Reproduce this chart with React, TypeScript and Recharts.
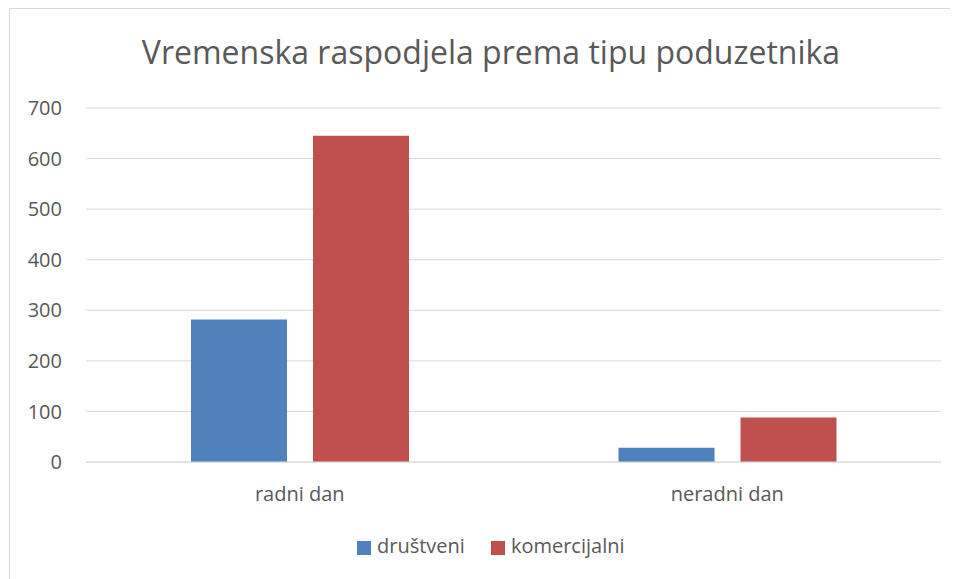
import { BarChart, Bar, XAxis, YAxis, CartesianGrid, Legend } from 'recharts';

const categories = ['radni dan', 'neradni dan'];
const drustveni = [282, 28];
const komercijalni = [645, 88];
const yTicks = [0, 100, 200, 300, 400, 500, 600, 700];

const SERIES = [
  { key: 'drustveni', name: 'društveni', color: '#4F81BD' },
  { key: 'komercijalni', name: 'komercijalni', color: '#C0504D' },
];

const FONT = '"Open Sans", sans-serif';
const TEXT = '#595959';

const data = categories.map((name, i) => ({
  name,
  drustveni: drustveni[i],
  komercijalni: komercijalni[i],
}));

const LegendContent = ({ payload }: any) => (
  <div style={{ display: 'flex', fontFamily: FONT, fontSize: 20, color: TEXT, lineHeight: '20px' }}>
    {(payload || []).map((item: any) => (
      <div key={item.value} style={{ display: 'flex', alignItems: 'flex-start', marginRight: 26 }}>
        <span
          style={{ width: 14, height: 14, background: item.color, marginTop: 5, marginRight: 6, display: 'inline-block' }}
        />
        <span>{item.value}</span>
      </div>
    ))}
  </div>
);

export default function App() {
  return (
    <div
      style={{
        position: 'relative',
        marginLeft: 1,
        width: 958,
        height: 600,
        border: '1px solid #d9d9d9',
        background: '#fff',
      }}
    >
      <div
        style={{
          position: 'absolute',
          top: 23,
          left: 0,
          width: 962,
          textAlign: 'center',
          fontFamily: FONT,
          fontSize: 32,
          lineHeight: '40px',
          color: TEXT,
        }}
      >
        Vremenska raspodjela prema tipu poduzetnika
      </div>
      <BarChart
        width={958}
        height={600}
        data={data}
        margin={{ top: 99, right: 27, left: 0, bottom: 117 }}
        barSize={96}
        barGap={26}
      >
        <CartesianGrid vertical={false} stroke="#d9d9d9" />
        <XAxis
          dataKey="name"
          axisLine={{ stroke: '#d9d9d9' }}
          tickLine={false}
          tickSize={6}
          tickMargin={19}
          height={30}
          tick={{ fontSize: 20, fill: TEXT, fontFamily: FONT }}
        />
        <YAxis
          domain={[0, 700]}
          ticks={yTicks}
          width={76}
          axisLine={false}
          tickLine={false}
          tickSize={6}
          tickMargin={18}
          tick={{ fontSize: 20, fill: TEXT, fontFamily: FONT }}
        />
        <Legend
          layout="horizontal"
          verticalAlign="middle"
          align="center"
          wrapperStyle={{ top: 527, left: 347, width: 400 }}
          content={<LegendContent />}
        />
        {SERIES.map((s) => (
          <Bar key={s.key} dataKey={s.key} name={s.name} fill={s.color} isAnimationActive={false} />
        ))}
      </BarChart>
    </div>
  );
}
